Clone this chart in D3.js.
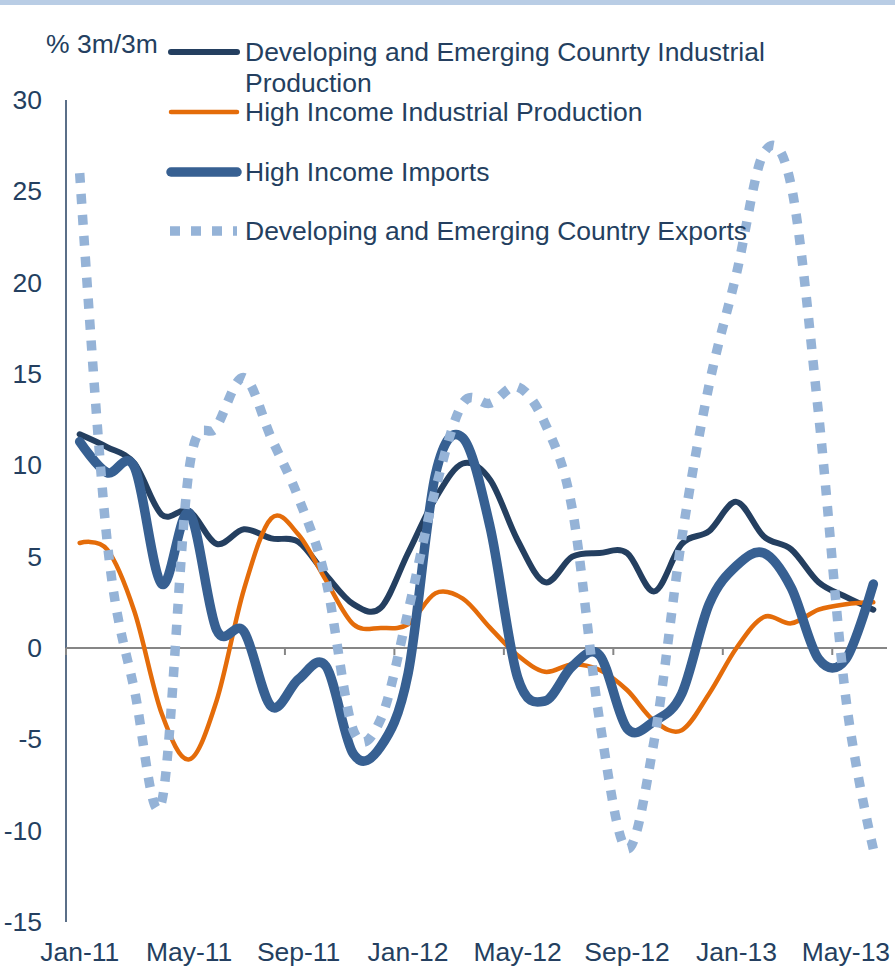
<!DOCTYPE html>
<html>
<head>
<meta charset="utf-8">
<script src="https://cdnjs.cloudflare.com/ajax/libs/d3/7.8.5/d3.min.js"></script>
<style>
  body { margin: 0; background: #ffffff; }
  svg text { font-family: "Liberation Sans", Arial, sans-serif; fill: #243f60; }
</style>
</head>
<body>
<div id="chart"></div>
<script>
// months Jan-11 .. Jun-13
var months = ["Jan-11","Feb-11","Mar-11","Apr-11","May-11","Jun-11","Jul-11","Aug-11","Sep-11","Oct-11","Nov-11","Dec-11",
              "Jan-12","Feb-12","Mar-12","Apr-12","May-12","Jun-12","Jul-12","Aug-12","Sep-12","Oct-12","Nov-12","Dec-12",
              "Jan-13","Feb-13","Mar-13","Apr-13","May-13","Jun-13"];
var yTicks = [30, 25, 20, 15, 10, 5, 0, -5, -10, -15];

var devIndustrial = [11.7, 11.0, 10.1, 7.3, 7.5, 5.7, 6.5, 6.0, 5.8, 4.0, 2.4, 2.2, 5.2, 8.2, 10.1,
                     9.2, 5.9, 3.6, 5.0, 5.2, 5.2, 3.1, 5.7, 6.4, 8.0, 6.1, 5.4, 3.6, 2.8, 2.1];
var highIndustrial = [5.75, 5.4, 2.0, -3.6, -6.1, -2.9, 3.2, 7.1, 6.2, 3.7, 1.3, 1.1, 1.3, 3.0, 2.7,
                      1.1, -0.4, -1.3, -0.9, -1.2, -2.3, -4.0, -4.5, -2.5, 0.0, 1.7, 1.35, 2.1, 2.4, 2.5];
var highImports = [11.3, 9.6, 9.9, 3.5, 7.4, 1.0, 0.9, -3.2, -1.7, -1.0, -5.8, -5.4, -1.4, 9.5, 11.5,
                   6.6, -1.6, -2.9, -1.0, -0.4, -4.4, -4.0, -2.5, 2.4, 4.5, 5.2, 3.3, -0.6, -0.6, 3.5];
var devExports = [26.0, 5.9, -2.3, -8.4, 9.8, 12.1, 14.8, 11.5, 8.2, 3.7, -4.5, -3.9, 2.0, 8.7, 13.4,
                  13.4, 14.3, 12.3, 7.6, -4.0, -11.0, -5.0, 6.0, 14.4, 20.5, 27.1, 25.3, 12.8, -2.8, -11.0];

var seriesNames = ["Developing and Emerging Counrty Industrial Production",
                   "High Income Industrial Production",
                   "High Income Imports",
                   "Developing and Emerging Country Exports"];

(function() {
  var width = 895, height = 967;
  var plot = {left: 66, right: 887, top: 100, bottom: 922};
  var fontSize = 25, stretch = 1.06;

  var series = [
    {name: seriesNames[0], values: devIndustrial,  color: "#243f60", width: 6,   dash: null,    legendY: 52,  lines: ["Developing and Emerging Counrty Industrial", "Production"]},
    {name: seriesNames[1], values: highIndustrial, color: "#e46c0a", width: 4.5, dash: null,    legendY: 112, lines: [seriesNames[1]]},
    {name: seriesNames[2], values: highImports,    color: "#376092", width: 9.5, dash: null,    legendY: 172, lines: [seriesNames[2]]},
    {name: seriesNames[3], values: devExports,     color: "#95b3d7", width: 9.5, dash: "10,11", legendY: 231, lines: [seriesNames[3]]}
  ];

  var svg = d3.select("#chart").append("svg")
    .attr("width", width)
    .attr("height", height);

  // light band along the top
  svg.append("rect")
    .attr("x", 0).attr("y", 0)
    .attr("width", width).attr("height", 5)
    .attr("fill", "#b9cde5");

  var x = d3.scaleBand().domain(months).range([plot.left, plot.right]).padding(0);
  var y = d3.scaleLinear().domain([-15, 30]).range([plot.bottom, plot.top]);
  var cx = function(m) { return x(m) + x.bandwidth() / 2; };

  // text helper, slightly wider glyphs like the original
  function label(g, tx, ty, str, anchor) {
    return g.append("text")
      .attr("transform", "translate(" + tx + "," + ty + ") scale(" + stretch + ",1)")
      .attr("text-anchor", anchor || "start")
      .style("font-size", fontSize + "px")
      .text(str);
  }

  // y axis
  var yAxis = svg.append("g").attr("class", "y-axis");
  yAxis.append("line")
    .attr("x1", plot.left).attr("x2", plot.left)
    .attr("y1", y(30)).attr("y2", y(-15))
    .attr("stroke", "#243f60").attr("stroke-width", 1.5);
  yTicks.forEach(function(t) {
    label(yAxis, 42, y(t) + 9, String(t), "end");
  });

  // zero line with category ticks every 4 months
  var xAxis = svg.append("g").attr("class", "x-axis");
  xAxis.append("line")
    .attr("x1", plot.left).attr("x2", plot.right)
    .attr("y1", y(0)).attr("y2", y(0))
    .attr("stroke", "#868686").attr("stroke-width", 2);
  months.forEach(function(m, i) {
    if (i % 4 !== 0) return;
    xAxis.append("line")
      .attr("x1", x(m)).attr("x2", x(m))
      .attr("y1", y(0)).attr("y2", y(0) + 7)
      .attr("stroke", "#868686").attr("stroke-width", 2);
    label(xAxis, cx(m), 961, m, "middle");
  });

  // unit label
  label(svg, 46, 53, "% 3m/3m");

  // series lines
  var line = d3.line()
    .x(function(d, i) { return cx(months[i]); })
    .y(function(d) { return y(d); })
    .curve(d3.curveCardinal.tension(0));

  series.forEach(function(s) {
    svg.append("path")
      .datum(s.values)
      .attr("d", line)
      .attr("fill", "none")
      .attr("stroke", s.color)
      .attr("stroke-width", s.width)
      .attr("stroke-linecap", s.dash ? "butt" : "round")
      .attr("stroke-linejoin", "round")
      .attr("stroke-dasharray", s.dash);
  });

  // legend
  var legend = svg.append("g").attr("class", "legend");
  series.forEach(function(s) {
    legend.append("line")
      .attr("x1", s.dash ? 170 : 171).attr("x2", 237)
      .attr("y1", s.legendY).attr("y2", s.legendY)
      .attr("stroke", s.color)
      .attr("stroke-width", s.width)
      .attr("stroke-linecap", s.dash ? "butt" : "round")
      .attr("stroke-dasharray", s.dash);
    s.lines.forEach(function(str, k) {
      label(legend, 245, s.legendY + 9 + k * 31, str);
    });
  });
})();
</script>
</body>
</html>
